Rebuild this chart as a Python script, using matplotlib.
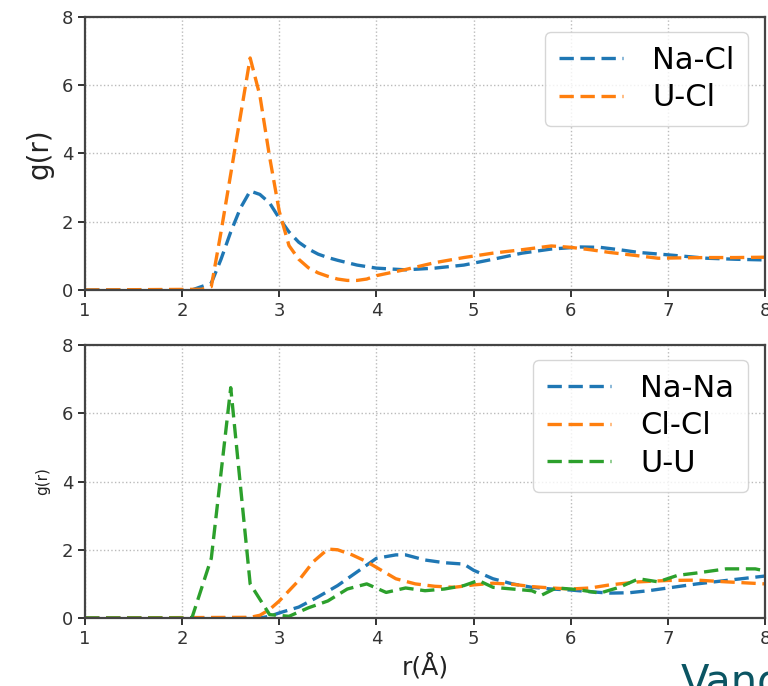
import matplotlib
matplotlib.use("Agg")
import matplotlib.pyplot as plt

## Podatki (odcitano iz slike)
# zgoraj: Na-Cl, U-Cl
r_nacl = [1.0, 2.1, 2.3, 2.4, 2.5, 2.6, 2.7, 2.8, 2.9, 3.0, 3.1, 3.2, 3.3, 3.4, 3.5, 3.6,
          3.8, 4.0, 4.3, 4.6, 4.9, 5.2, 5.5, 5.8, 6.1, 6.3, 6.5, 6.7, 7.0, 7.4, 7.7, 8.0]
g_nacl = [0, 0, 0.2, 0.9, 1.7, 2.4, 2.9, 2.8, 2.55, 2.1, 1.7, 1.4, 1.2, 1.05, 0.95, 0.87,
          0.73, 0.64, 0.59, 0.64, 0.73, 0.9, 1.08, 1.2, 1.26, 1.25, 1.18, 1.1, 1.03, 0.93, 0.9, 0.88]

r_ucl = [1.0, 2.2, 2.3, 2.4, 2.5, 2.6, 2.7, 2.8, 2.9, 3.0, 3.1, 3.2, 3.3, 3.4, 3.5, 3.6, 3.7,
         3.8, 3.9, 4.0, 4.3, 4.6, 4.9, 5.2, 5.5, 5.8, 6.0, 6.2, 6.4, 6.7, 6.9, 7.1, 7.4, 7.7, 8.0]
g_ucl = [0, 0.02, 0.1, 1.7, 3.4, 5.1, 6.8, 5.7, 3.9, 2.3, 1.3, 0.9, 0.65, 0.5, 0.4, 0.32, 0.28,
         0.28, 0.32, 0.42, 0.6, 0.8, 0.95, 1.08, 1.18, 1.29, 1.25, 1.18, 1.1, 1.0, 0.93, 0.94, 0.95, 0.95, 0.96]

# spodaj: Na-Na, Cl-Cl, U-U
r_nana = [1.0, 2.8, 2.9, 3.0, 3.2, 3.4, 3.6, 3.8, 4.0, 4.2, 4.3, 4.5, 4.7, 4.9, 5.0, 5.2,
          5.4, 5.6, 5.8, 6.0, 6.2, 6.4, 6.6, 6.8, 7.0, 7.3, 7.6, 8.0]
g_nana = [0, 0, 0.05, 0.15, 0.32, 0.62, 0.95, 1.35, 1.75, 1.85, 1.85, 1.7, 1.62, 1.58, 1.4, 1.15,
          1.0, 0.9, 0.85, 0.82, 0.77, 0.73, 0.74, 0.8, 0.88, 1.0, 1.1, 1.23]

r_clcl = [1.0, 2.7, 2.8, 2.9, 3.0, 3.2, 3.35, 3.5, 3.6, 3.75, 3.9, 4.05, 4.2, 4.4, 4.6, 4.8,
          5.0, 5.2, 5.4, 5.6, 5.8, 6.0, 6.2, 6.4, 6.7, 7.0, 7.3, 7.6, 8.0]
g_clcl = [0, 0.02, 0.08, 0.25, 0.5, 1.1, 1.65, 2.02, 2.0, 1.85, 1.65, 1.4, 1.15, 1.0, 0.93, 0.9,
          0.97, 1.02, 0.99, 0.92, 0.88, 0.85, 0.88, 0.97, 1.06, 1.1, 1.11, 1.06, 1.0]

r_uu = [1.0, 2.1, 2.3, 2.5, 2.7, 2.9, 3.1, 3.3, 3.5, 3.7, 3.9, 4.1, 4.3, 4.5, 4.7, 4.9, 5.05,
        5.2, 5.4, 5.6, 5.7, 5.85, 6.0, 6.1, 6.3, 6.5, 6.7, 6.9, 7.1, 7.3, 7.6, 7.9, 8.0]
g_uu = [0, 0, 1.75, 6.75, 1.0, 0.1, 0.05, 0.3, 0.5, 0.85, 1.0, 0.75, 0.88, 0.8, 0.85, 0.95, 1.1,
        0.9, 0.85, 0.8, 0.67, 0.88, 0.85, 0.82, 0.73, 0.9, 1.15, 1.06, 1.25, 1.32, 1.44, 1.44, 1.38]

x_ticks = [1, 2, 3, 4, 5, 6, 7, 8]
y_ticks = [0, 2, 4, 6, 8]
###

BLUE = "#1f77b4"
ORANGE = "#ff7f0e"
GREEN = "#2ca02c"
SPINE = "#444444"
DASH = (4.3, 2.0)

fig = plt.figure(figsize=(7.68, 6.86), dpi=100)
ax1 = fig.add_axes([0.1107, 0.5773, 0.8854, 0.3979])
ax2 = fig.add_axes([0.1107, 0.0991, 0.8854, 0.3980])


def style(ax):
    ax.set_xlim(1, 8)
    ax.set_ylim(0, 8)
    ax.set_xticks(x_ticks)
    ax.set_yticks(y_ticks)
    ax.grid(True, linestyle=":", color="#bbbbbb", linewidth=1.0)
    ax.tick_params(labelsize=13, colors="#333333", width=1.4, length=5)
    for s in ax.spines.values():
        s.set_color(SPINE)
        s.set_linewidth(1.6)


def legenda(ax):
    ax.legend(loc="upper right", bbox_to_anchor=(0.975, 0.945), fontsize=22,
              handlelength=2.1, handletextpad=0.95, labelspacing=0.28,
              borderaxespad=0, borderpad=0.45)


# ZGORNJI GRAF
ax1.plot(r_nacl, g_nacl, color=BLUE, lw=2.4, dashes=DASH, label="Na-Cl")
ax1.plot(r_ucl, g_ucl, color=ORANGE, lw=2.4, dashes=DASH, label="U-Cl")
style(ax1)
ax1.set_ylabel("g(r)", fontsize=20, color="#222222", labelpad=6)
legenda(ax1)

# SPODNJI GRAF
ax2.plot(r_nana, g_nana, color=BLUE, lw=2.4, dashes=DASH, label="Na-Na")
ax2.plot(r_clcl, g_clcl, color=ORANGE, lw=2.4, dashes=DASH, label="Cl-Cl")
ax2.plot(r_uu, g_uu, color=GREEN, lw=2.4, dashes=DASH, label="U-U")
style(ax2)
ax2.set_ylabel("g(r)", fontsize=11, color="#222222", labelpad=8)
ax2.set_xlabel("r(Å)", fontsize=18, color="#222222", labelpad=4)
legenda(ax2)

# odrezan napis spodaj desno
fig.text(0.886, -0.012, "Vand", fontsize=30, color="#0b5563", ha="left", va="baseline")

fig.savefig("out.png", dpi=100)
